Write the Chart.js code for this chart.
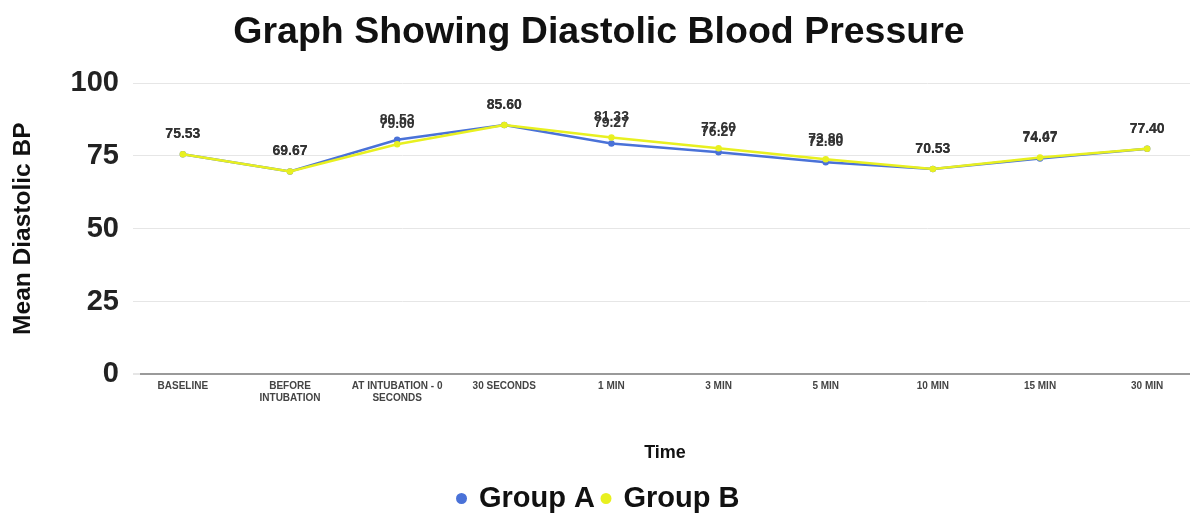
<!DOCTYPE html>
<html>
<head>
<meta charset="utf-8">
<script src="https://cdn.jsdelivr.net/npm/chart.js@4.4.1/dist/chart.umd.min.js"></script>
<style>
html,body{margin:0;padding:0;background:#fff;overflow:hidden;}
</style>
</head>
<body>
<canvas id="c" width="1196" height="523"></canvas>
<script>
const categories = [
  "BASELINE",
  ["BEFORE", "INTUBATION"],
  ["AT INTUBATION - 0", "SECONDS"],
  "30 SECONDS",
  "1 MIN",
  "3 MIN",
  "5 MIN",
  "10 MIN",
  "15 MIN",
  "30 MIN"
];
const groupA = [75.53, 69.67, 80.53, 85.60, 79.27, 76.27, 72.80, 70.53, 74.07, 77.40];
const groupB = [75.53, 69.67, 79.00, 85.60, 81.33, 77.60, 73.80, 70.53, 74.47, 77.40];
const yTicks = [0, 25, 50, 75, 100];

const FONT = "'Liberation Sans', Arial, sans-serif";

const labelPlugin = {
  id: 'pointLabels',
  afterDatasetsDraw(chart) {
    const ctx = chart.ctx;
    ctx.save();
    ctx.font = "bold 14px " + FONT;
    ctx.fillStyle = "#333";
    ctx.textAlign = "center";
    ctx.textBaseline = "middle";
    chart.data.datasets.forEach((ds, i) => {
      const meta = chart.getDatasetMeta(i);
      meta.data.forEach((pt, j) => {
        ctx.fillText(ds.data[j].y.toFixed(2), pt.x, pt.y - 20);
      });
    });
    ctx.restore();
  }
};

const toXY = arr => arr.map((v, i) => ({x: i, y: v}));

new Chart(document.getElementById('c'), {
  type: 'line',
  data: {
    datasets: [
      {label: 'Group A', data: toXY(groupA), borderColor: '#4a72d8', backgroundColor: '#4a72d8', order: 1,
       borderWidth: 2.5, pointRadius: 2, pointHoverRadius: 2, tension: 0},
      {label: 'Group B', data: toXY(groupB), borderColor: '#e8f020', backgroundColor: '#e8f020', order: 0,
       borderWidth: 2.5, pointRadius: 2, pointHoverRadius: 2, tension: 0}
    ]
  },
  options: {
    responsive: false,
    animation: false,
    devicePixelRatio: 1,
    layout: {padding: {left: 8, right: 6, top: 4, bottom: 0}},
    plugins: {
      title: {display: true, text: 'Graph Showing Diastolic Blood Pressure', color: '#111',
        font: {family: FONT, size: 37.5, weight: 'bold'}, padding: {top: 6, bottom: 28}},
      legend: {position: 'bottom', labels: {usePointStyle: true, pointStyle: 'circle', boxWidth: 6, boxHeight: 6,
        sort: (a, b) => a.datasetIndex - b.datasetIndex,
        color: '#111', font: {family: FONT, size: 29, weight: 'bold'}, padding: 8}},
      tooltip: {enabled: false}
    },
    scales: {
      x: {
        type: 'linear', min: -0.4, max: 9.4,
        afterBuildTicks: (axis) => { axis.ticks = categories.map((c, i) => ({value: i})); },
        ticks: {autoSkip: false, maxRotation: 0, color: '#444', padding: 6,
          font: {family: FONT, size: 10, weight: 'bold'},
          callback: (v) => categories[v]},
        grid: {display: false, drawTicks: false},
        border: {display: false},
        title: {display: true, text: 'Time', color: '#111', font: {family: FONT, size: 18, weight: 'bold'}, padding: {top: 32, bottom: 12}}
      },
      y: {
        min: 0, max: 100,
        afterBuildTicks: (axis) => { axis.ticks = yTicks.map(v => ({value: v})); },
        afterFit: (axis) => { axis.width = 132; },
        ticks: {color: '#222', font: {family: FONT, size: 29, weight: 'bold'}, padding: 14},
        grid: {color: (c) => c.tick && c.tick.value === 0 ? '#9a9a9a' : '#e6e6e6',
               lineWidth: (c) => c.tick && c.tick.value === 0 ? 2 : 1, tickLength: 7, tickColor: '#e6e6e6'},
        border: {display: false},
        title: {display: true, text: 'Mean Diastolic BP', color: '#111', font: {family: FONT, size: 24.5, weight: 'bold'}, padding: {top: 1, bottom: 4}}
      }
    }
  },
  plugins: [labelPlugin]
});
</script>
</body>
</html>
